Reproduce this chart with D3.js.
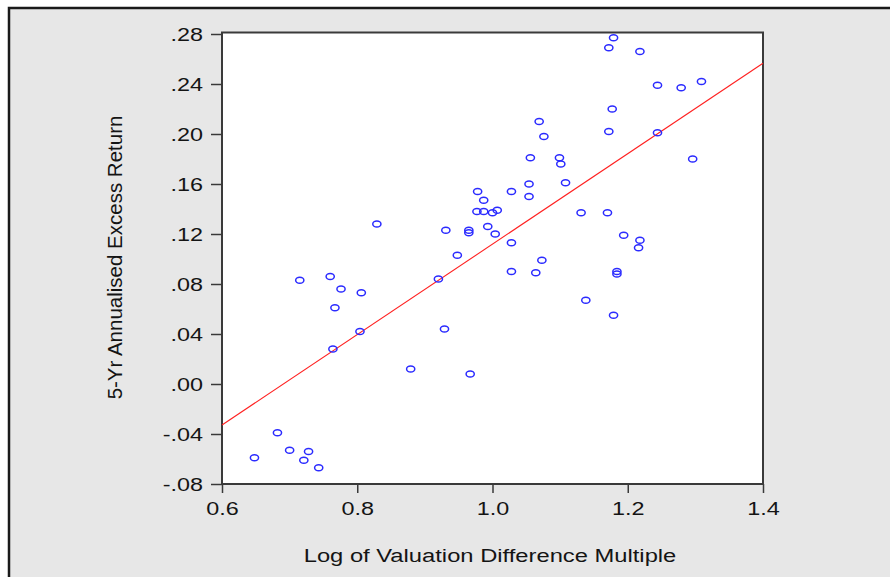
<!DOCTYPE html>
<html>
<head>
<meta charset="utf-8">
<script src="https://cdn.jsdelivr.net/npm/d3@7"></script>
<style>
  html, body { margin: 0; padding: 0; background: #fff; }
  svg { display: block; }
  text { font-family: "Liberation Sans", Arial, sans-serif; fill: #141414; }
</style>
</head>
<body>
<svg id="chart" width="890" height="577"></svg>
<script>
var valuation = [1.179, 1.172, 1.218, 1.244, 1.279, 1.309, 1.177, 1.172, 1.244, 1.296,
	1.069, 1.076, 1.056, 1.099, 1.101, 1.108, 1.054, 1.054, 0.978, 1.028,
	0.987, 0.977, 0.987, 1.000, 1.007, 1.131, 1.170, 0.931, 0.965, 0.965,
	0.993, 1.004, 0.829, 1.028, 0.948, 1.073, 1.028, 1.064, 0.920, 0.715,
	0.760, 0.776, 0.806, 0.767, 0.804, 0.764, 0.929, 0.879, 0.967, 1.194,
	1.218, 1.216, 1.184, 1.184, 1.138, 1.179, 0.682, 0.648, 0.700, 0.728,
	0.721, 0.743];
var excessReturn = [0.277, 0.269, 0.266, 0.239, 0.237, 0.242, 0.220, 0.202, 0.201, 0.180,
	0.210, 0.198, 0.181, 0.181, 0.176, 0.161, 0.160, 0.150, 0.154, 0.154,
	0.147, 0.138, 0.138, 0.137, 0.139, 0.137, 0.137, 0.123, 0.123, 0.121,
	0.126, 0.120, 0.128, 0.113, 0.103, 0.099, 0.090, 0.089, 0.084, 0.083,
	0.086, 0.076, 0.073, 0.061, 0.042, 0.028, 0.044, 0.012, 0.008, 0.119,
	0.115, 0.109, 0.090, 0.088, 0.067, 0.055, -0.039, -0.059, -0.053, -0.054,
	-0.061, -0.067];

// fitted line, ends as drawn
var fitX = [0.6, 1.4];
var fitY = [-0.0328, 0.2566];

var xTicks = [0.6, 0.8, 1.0, 1.2, 1.4];
var yTicks = [-0.08, -0.04, 0.00, 0.04, 0.08, 0.12, 0.16, 0.20, 0.24, 0.28];

var svg = d3.select("#chart");
var stretch = 1.3;

// grey panel with dark top / left edge
svg.append("rect")
	.attr("x", 9).attr("y", 8)
	.attr("width", 881).attr("height", 569)
	.attr("fill", "#e7e7e7");
svg.append("path")
	.attr("d", "M9,577V8H890")
	.attr("fill", "none")
	.attr("stroke", "#1a1a1a")
	.attr("stroke-width", 2.5);

var plotLeft = 222, plotRight = 763, plotTop = 34, plotBottom = 484;

var x = d3.scaleLinear().domain([0.6, 1.4]).range([plotLeft, plotRight]);
var y = d3.scaleLinear().domain([-0.08, 0.28]).range([plotBottom, plotTop]);

svg.append("rect")
	.attr("x", plotLeft).attr("y", plotTop - 1.5)
	.attr("width", plotRight - plotLeft).attr("height", plotBottom - plotTop + 1.5)
	.attr("fill", "#fff")
	.attr("stroke", "#3a3a3a")
	.attr("stroke-width", 2);

// ".28", "-.04" style labels with a plain hyphen
var yFormat = function(d) {
	return d3.format(".2f")(d).replace("\u2212", "-").replace("0.", ".");
};

var yAxis = svg.append("g")
	.attr("transform", "translate(" + plotLeft + ",0)")
	.call(d3.axisLeft(y).tickValues(yTicks).tickFormat(yFormat).tickSize(11).tickSizeOuter(0));
yAxis.select(".domain").remove();
yAxis.selectAll("line").attr("stroke", "#3a3a3a").attr("stroke-width", 1.5);
yAxis.selectAll("text")
	.attr("x", -19 / stretch)
	.attr("dy", "0.36em")
	.attr("transform", "scale(" + stretch + ",1)")
	.style("font-size", "18px")
	.style("font-family", "'Liberation Sans', Arial, sans-serif")
	.attr("fill", "#141414");

var xAxis = svg.append("g")
	.attr("transform", "translate(0," + plotBottom + ")")
	.call(d3.axisBottom(x).tickValues(xTicks).tickFormat(d3.format(".1f")).tickSize(9).tickSizeOuter(0));
xAxis.select(".domain").remove();
xAxis.selectAll("line").attr("stroke", "#3a3a3a").attr("stroke-width", 1.5);
xAxis.selectAll("text")
	.attr("y", 31)
	.attr("dy", 0)
	.attr("transform", "scale(" + stretch + ",1)")
	.style("font-size", "18px")
	.style("font-family", "'Liberation Sans', Arial, sans-serif")
	.attr("fill", "#141414");

// regression line
svg.append("line")
	.attr("x1", x(fitX[0])).attr("y1", y(fitY[0]))
	.attr("x2", x(fitX[1])).attr("y2", y(fitY[1]))
	.attr("stroke", "#ff2020")
	.attr("stroke-width", 1.1);

svg.append("g")
	.selectAll("ellipse")
	.data(valuation)
	.enter().append("ellipse")
		.attr("cx", function(d) { return x(d); })
		.attr("cy", function(d, i) { return y(excessReturn[i]); })
		.attr("rx", 4.1)
		.attr("ry", 3.1)
		.attr("fill", "none")
		.attr("stroke", "#2b2bff")
		.attr("stroke-width", 1.5);

svg.append("text")
	.attr("transform", "translate(490,562) scale(1.32,1)")
	.attr("text-anchor", "middle")
	.style("font-size", "18px")
	.text("Log of Valuation Difference Multiple");

svg.append("text")
	.attr("transform", "translate(122,257.5) rotate(-90)")
	.attr("text-anchor", "middle")
	.style("font-size", "20.5px")
	.text("5-Yr Annualised Excess Return");
</script>
</body>
</html>
